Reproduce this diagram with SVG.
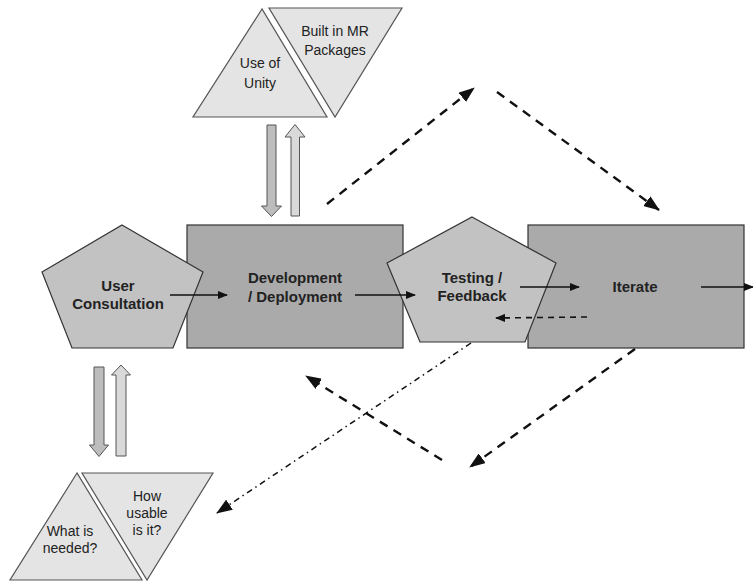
<svg xmlns="http://www.w3.org/2000/svg" width="753" height="583" viewBox="0 0 753 583">
<style>
.tri{fill:#e4e4e4;stroke:#555;stroke-width:1.2}
.pent{fill:#c2c2c2;stroke:#333;stroke-width:1.2}
.box{fill:#aaaaaa;stroke:#333;stroke-width:1.2}
.bd{fill:#bdbdbd;stroke:#555;stroke-width:1}
.bu{fill:#d9d9d9;stroke:#555;stroke-width:1}
.lbl{font-family:"Liberation Sans",Arial,sans-serif;font-size:14px;fill:#222;text-anchor:middle}
.bold{font-family:"Liberation Sans",Arial,sans-serif;font-size:15px;font-weight:bold;fill:#222;text-anchor:middle}
.solid{stroke:#111;stroke-width:1.6;fill:none}
.dash{stroke:#111;stroke-width:2.4;fill:none;stroke-dasharray:9 7}
.dashs{stroke:#111;stroke-width:1.6;fill:none;stroke-dasharray:6 5}
.dd{stroke:#111;stroke-width:1.5;fill:none;stroke-dasharray:6 4 1.5 4}
</style>
<defs>
<marker id="ah" markerWidth="10" markerHeight="8" refX="9" refY="4" orient="auto" markerUnits="userSpaceOnUse">
<path d="M0,0 L10,4 L0,8 Z" fill="#111"/>
</marker>
<marker id="ahb" markerWidth="16" markerHeight="12" refX="15" refY="6" orient="auto" markerUnits="userSpaceOnUse">
<path d="M0,0 L16,6 L0,12 Z" fill="#111"/>
</marker>
</defs>
<rect width="753" height="583" fill="#fff"/>

<g id="use-of-unity">
<polygon class="tri" points="262,9 193,117 327,117"/>
<text class="lbl" x="260" y="68">Use of</text>
<text class="lbl" x="260" y="88">Unity</text>
</g>
<g id="built-in-mr">
<polygon class="tri" points="269,8 402,8 335,117"/>
<text class="lbl" x="335" y="36">Built in MR</text>
<text class="lbl" x="335" y="55">Packages</text>
</g>

<g id="what-is-needed">
<polygon class="tri" points="77,473 10,580 142,580"/>
<text class="lbl" x="70" y="536">What is</text>
<text class="lbl" x="70" y="553">needed?</text>
</g>
<g id="how-usable">
<polygon class="tri" points="82,473 213,473 147,580"/>
<text class="lbl" x="147" y="501">How</text>
<text class="lbl" x="147" y="518">usable</text>
<text class="lbl" x="147" y="535">is it?</text>
</g>

<g id="development">
<rect class="box" x="187" y="225" width="216" height="123"/>
<text class="bold" x="295" y="283">Development</text>
<text class="bold" x="295" y="302">/ Deployment</text>
</g>
<g id="iterate">
<rect class="box" x="528" y="225" width="216" height="123"/>
<text class="bold" x="635" y="292">Iterate</text>
</g>
<g id="user-consultation">
<polygon class="pent" points="122,225 203,272 173,348 72,348 42,272"/>
<text class="bold" x="118" y="291">User</text>
<text class="bold" x="118" y="309">Consultation</text>
</g>
<g id="testing">
<polygon class="pent" points="472,217 556,263 525,342 420,342 387,263"/>
<text class="bold" x="472" y="283">Testing /</text>
<text class="bold" x="472" y="301">Feedback</text>
</g>

<g id="connectors">
<polygon class="bd" points="267,125 276,125 276,206 281.5,206 271.5,216.5 261.5,206 267,206"/>
<polygon class="bu" points="291,216 299.5,216 299.5,137 305,137 295,124.5 285,137 291,137"/>
<polygon class="bd" points="94,367 104,367 104,445 108.5,445 99,456.5 89.5,445 94,445"/>
<polygon class="bu" points="116,456 126,456 126,375 130.5,375 121,365 111.5,375 116,375"/>
<line class="solid" x1="170" y1="295" x2="227" y2="295" marker-end="url(#ah)"/>
<line class="solid" x1="355" y1="295" x2="415" y2="295" marker-end="url(#ah)"/>
<line class="solid" x1="520" y1="287" x2="579" y2="287" marker-end="url(#ah)"/>
<line class="solid" x1="701" y1="287" x2="753" y2="287" marker-end="url(#ah)"/>
<line class="dashs" x1="587" y1="317" x2="496" y2="318" marker-end="url(#ah)"/>
<line class="dash" x1="327" y1="204" x2="474" y2="88" marker-end="url(#ahb)"/>
<line class="dash" x1="497" y1="92" x2="659" y2="210" marker-end="url(#ahb)"/>
<line class="dash" x1="635" y1="349" x2="470" y2="467" marker-end="url(#ahb)"/>
<line class="dash" x1="442" y1="460" x2="306" y2="376" marker-end="url(#ahb)"/>
<line class="dd" x1="471" y1="343" x2="217" y2="513" marker-end="url(#ahb)"/>
</g>
</svg>
